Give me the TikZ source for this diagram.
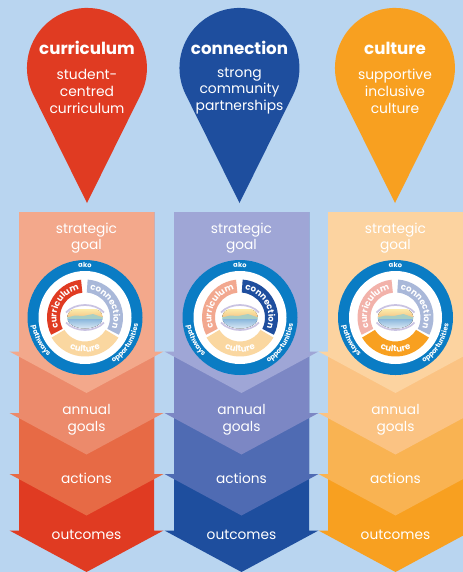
\documentclass[tikz,border=0pt]{standalone}
\usepackage{fontspec}
\setmainfont{Poppins}
\usetikzlibrary{decorations.text}
\definecolor{bgblue}{HTML}{B9D5F0}
\definecolor{ringblue}{HTML}{0A7CC4}
\definecolor{palered}{HTML}{F2A88F}
\definecolor{paleredb}{HTML}{F2B2AA}
\definecolor{paleblue}{HTML}{A9B8D9}
\definecolor{paleorange}{HTML}{FAD7A0}
\definecolor{logosky}{HTML}{FBE9A8}
\definecolor{logosun}{HTML}{F6C98A}
\definecolor{logohill}{HTML}{A9CFC4}
\definecolor{logowaterA}{HTML}{8DB9DE}
\definecolor{logowaterB}{HTML}{DCEAF5}
\definecolor{logoband}{HTML}{C9C3E2}
\definecolor{rA}{HTML}{F3A88B}\definecolor{rB}{HTML}{EC8A6B}\definecolor{rC}{HTML}{E76A45}\definecolor{rD}{HTML}{E03B22}
\definecolor{bA}{HTML}{9FA6D6}\definecolor{bB}{HTML}{7C87C4}\definecolor{bC}{HTML}{4F6BB3}\definecolor{bD}{HTML}{1E4E9E}
\definecolor{oA}{HTML}{FCD3A0}\definecolor{oB}{HTML}{FBC383}\definecolor{oC}{HTML}{F9B352}\definecolor{oD}{HTML}{F8A020}
\tikzset{
  x=.75pt,y=.75pt,
  pinhead/.style={text=white,font=\fontsize{12.5}{15}\selectfont\bfseries,inner sep=0pt},
  pinbody/.style={text=white,align=center,font=\fontsize{10.4}{12.7}\selectfont,inner sep=0pt},
  layerlabel/.style={text=white,align=center,font=\fontsize{10.3}{12.4}\selectfont,inner sep=0pt},
  ringtext/.style={decorate,decoration={text along path,text align=center,text color=white,text={|\fontsize{5.1}{6}\selectfont\bfseries|#1}}},
  segtext/.style={decorate,decoration={text along path,text align=center,text color=white,text={|\fontsize{6.5}{7}\selectfont\bfseries|#1}}},
}
% pin: centre x, colour, heading, body
\newcommand{\drawpin}[5]{%
  \fill[#2] (#1,-203) -- (#1+53.7,-94.6) arc[start angle=-26.4,end angle=206.4,radius=60] -- cycle;
  \node[pinhead] (head#5) at (#1,-48) {#3};
  \node[pinbody] (body#5) at (#1,-91) {#4};
}
% one arrow layer: centre x, colour, wing y
\newcommand{\drawlayer}[3]{%
  \fill[#2] (#1-67.5,-212) -- (#1+67.5,-212) -- (#1+67.5,-#3) -- (#1+77,-#3) -- (#1,-#3-41.5) -- (#1-77,-#3) -- (#1-67.5,-#3) -- cycle;
}
% wheel: centre x, name, curriculum, connection, culture colours
\newcommand{\drawwheel}[5]{%
  \begin{scope}[shift={(#1,-317.5)}]
    \fill[ringblue] (0,0) circle[radius=57.5];
    \fill[white] (0,0) circle[radius=46.5];
    \fill[#3] (96:38) arc[start angle=96,end angle=207,radius=38] -- (207:25) arc[start angle=207,end angle=96,radius=25] -- cycle;
    \fill[#4] (86:38) arc[start angle=86,end angle=-27,radius=38] -- (-27:25) arc[start angle=-27,end angle=86,radius=25] -- cycle;
    \fill[#5] (211:39) arc[start angle=211,end angle=329,radius=39] -- (329:24) arc[start angle=329,end angle=211,radius=24] -- cycle;
    \begin{scope}
      \clip (0,0) ellipse[x radius=18,y radius=11];
      \fill[bottom color=logosun,top color=logosky] (-18,1) rectangle (18,8);
      \fill[logohill] (-18,0) -- (-10,2) -- (-2,1.5) -- (8,3.5) -- (18,0) -- (18,-2) -- (-18,-2) -- cycle;
      \fill[top color=logowaterA,bottom color=logowaterB] (-18,-2) rectangle (18,-11);
    \end{scope}
    \draw[logoband,line width=1.3pt] (-19,5) .. controls (-10,15) and (10,15) .. (19,5);
    \draw[logoband,line width=1.3pt] (-19,-5) .. controls (-10,-15) and (10,-15) .. (19,-5);
    \path[ringtext=ako] (112:50) arc[start angle=112,end angle=68,radius=50];
    \path[ringtext=pathways] (170:53.5) arc[start angle=170,end angle=245,radius=53.5];
    \path[ringtext=opportunities] (280:53.5) arc[start angle=280,end angle=375,radius=53.5];
    \path[segtext=curriculum] (207:28.5) arc[start angle=207,end angle=96,radius=28.5];
    \path[segtext=connection] (86:28.5) arc[start angle=86,end angle=-27,radius=28.5];
    \path[segtext=culture] (225:34.5) arc[start angle=225,end angle=315,radius=34.5];
  \end{scope}
}
% column: centre x, name, four layer colours
\newcommand{\drawcolumn}[6]{%
  \drawlayer{#1}{#6}{530.5}
  \drawlayer{#1}{#5}{474}
  \drawlayer{#1}{#4}{413}
  \drawlayer{#1}{#3}{351.5}
  \node[layerlabel] (strategic#2) at (#1,-238) {strategic\\goal};
  \node[layerlabel] (annual#2) at (#1,-419.5) {annual\\goals};
  \node[layerlabel] (actions#2) at (#1,-478) {actions};
  \node[layerlabel] (outcomes#2) at (#1,-535) {outcomes};
}
\begin{document}
\begin{tikzpicture}
\useasboundingbox (0,-572) rectangle (463,0);
\fill[bgblue] (0,-572) rectangle (463,0);
\begin{scope}
\clip (0,-572) rectangle (463,0);
\drawpin{87}{rD}{curriculum}{student-\\centred\\curriculum}{A}
\drawpin{239.5}{bD}{connection}{strong\\community\\partnerships}{B}
\drawpin{395}{oD}{culture}{supportive\\inclusive\\culture}{C}
\drawcolumn{86.5}{A}{rA}{rB}{rC}{rD}
\drawcolumn{241.5}{B}{bA}{bB}{bC}{bD}
\drawcolumn{395.5}{C}{oA}{oB}{oC}{oD}
\drawwheel{85}{A}{rD}{paleblue}{paleorange}
\drawwheel{240}{B}{palered}{bD}{paleorange}
\drawwheel{395.5}{C}{paleredb}{paleblue}{oD}
\end{scope}
\end{tikzpicture}
\end{document}
